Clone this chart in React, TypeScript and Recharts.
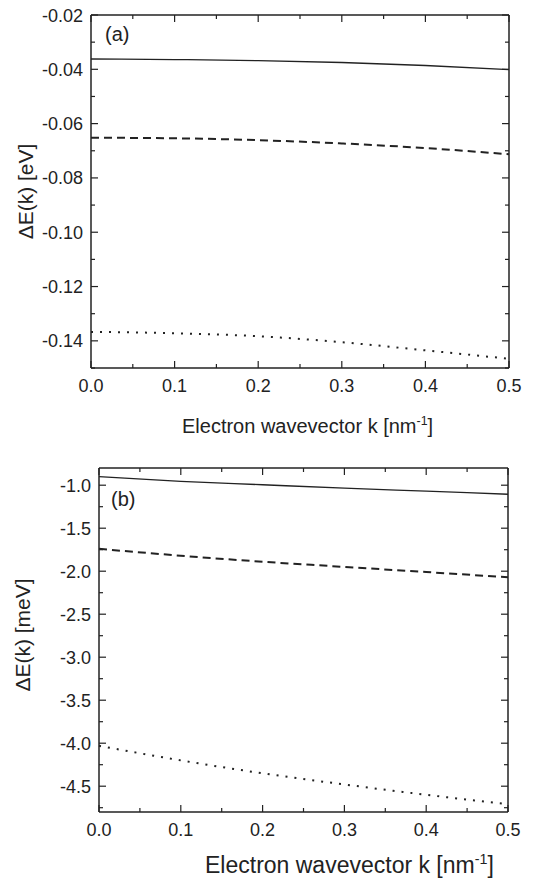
import { LineChart, Line, XAxis, YAxis, Label } from 'recharts';

// electron wavevector k [nm^-1]
const kValues = [0, 0.1, 0.2, 0.3, 0.4, 0.5];

// panel (a), eV
const solidA = [-0.0362, -0.0364, -0.0368, -0.0375, -0.0386, -0.0401];
const dashedA = [-0.0652, -0.0654, -0.0661, -0.0673, -0.069, -0.0713];
const dottedA = [-0.1367, -0.1372, -0.1383, -0.1405, -0.1435, -0.1466];

// panel (b), meV
const solidB = [-0.9, -0.955, -0.995, -1.035, -1.07, -1.105];
const dashedB = [-1.74, -1.82, -1.89, -1.95, -2.01, -2.07];
const dottedB = [-4.03, -4.2, -4.35, -4.48, -4.6, -4.71];

const xTicks = [0, 0.05, 0.1, 0.15, 0.2, 0.25, 0.3, 0.35, 0.4, 0.45, 0.5];
const yTicksA = [-0.15, -0.14, -0.13, -0.12, -0.11, -0.1, -0.09, -0.08, -0.07, -0.06, -0.05, -0.04, -0.03, -0.02];
const yTicksB = [-4.75, -4.5, -4.25, -4.0, -3.75, -3.5, -3.25, -3.0, -2.75, -2.5, -2.25, -2.0, -1.75, -1.5, -1.25, -1.0];

const dataA = kValues.map((k, i) => ({ k, solid: solidA[i], dashed: dashedA[i], dotted: dottedA[i] }));
const dataB = kValues.map((k, i) => ({ k, solid: solidB[i], dashed: dashedB[i], dotted: dottedB[i] }));

const INK = '#222';
const FONT = '"Liberation Sans", Arial, Helvetica, sans-serif';
const MAJOR = 7;
const MINOR = 4;

const isMajor = (v: number, step: number) => Math.abs(Math.round(v / step) * step - v) < step * 1e-3;

function makeTick(side: 'bottom' | 'top' | 'left' | 'right', step: number, digits: number, labelOffset: number) {
  return (props: any) => {
    const { x, y, payload } = props;
    const v = payload.value as number;
    const major = isMajor(v, step);
    const len = major ? MAJOR : MINOR;
    let line;
    if (side === 'bottom') line = <line x1={x} x2={x} y1={y} y2={y - len} />;
    else if (side === 'top') line = <line x1={x} x2={x} y1={y} y2={y + len} />;
    else if (side === 'left') line = <line x1={x} x2={x + len} y1={y} y2={y} />;
    else line = <line x1={x} x2={x - len} y1={y} y2={y} />;
    return (
      <g stroke={INK} strokeWidth={1.2}>
        {line}
        {major && side === 'bottom' ? (
          <text x={x} y={y + labelOffset} textAnchor="middle" fill={INK} stroke="none" fontSize={18} fontFamily={FONT}>
            {v.toFixed(digits)}
          </text>
        ) : null}
        {major && side === 'left' ? (
          <text x={x - labelOffset} y={y + 6.5} textAnchor="end" fill={INK} stroke="none" fontSize={18} fontFamily={FONT}>
            {v.toFixed(digits)}
          </text>
        ) : null}
      </g>
    );
  };
}

function xTitle(dx: number, dy: number, size: number) {
  return (props: any) => {
    const vb = props.viewBox;
    return (
      <text x={vb.x + dx} y={vb.y + dy} fill={INK} fontSize={size} fontFamily={FONT}>
        Electron wavevector k [nm
        <tspan dy={-size * 0.4} fontSize={size * 0.62}>-1</tspan>
        <tspan dy={size * 0.4}>]</tspan>
      </text>
    );
  };
}

function yTitle(text: string, x: number, dy: number) {
  return (props: any) => {
    const vb = props.viewBox;
    const cy = vb.y + vb.height / 2 + dy;
    return (
      <text x={x} y={cy} transform={`rotate(-90, ${x}, ${cy})`} textAnchor="middle" fill={INK} fontSize={21} fontFamily={FONT}>
        {text}
      </text>
    );
  };
}

function panelTag(text: string, dx: number, dy: number) {
  return (props: any) => {
    const vb = props.viewBox;
    return (
      <text x={vb.x + dx} y={vb.y + vb.height + dy} fill={INK} fontSize={20} fontFamily={FONT}>
        {text}
      </text>
    );
  };
}

const axisLine = { stroke: INK, strokeWidth: 1.5 };

function Series() {
  return [
    <Line key="s" type="monotone" dataKey="solid" xAxisId="b" yAxisId="l" stroke={INK} strokeWidth={1.3} dot={false} isAnimationActive={false} />,
    <Line key="d" type="monotone" dataKey="dashed" xAxisId="b" yAxisId="l" stroke={INK} strokeWidth={2} strokeDasharray="8 5" dot={false} isAnimationActive={false} />,
    <Line key="o" type="monotone" dataKey="dotted" xAxisId="b" yAxisId="l" stroke={INK} strokeWidth={2} strokeDasharray="2 7" dot={false} isAnimationActive={false} />,
  ];
}

export default function App() {
  return (
    <div style={{ position: 'absolute', left: 0, top: 0, width: 556, height: 885, background: '#fff' }}>
      <div style={{ position: 'absolute', left: 0, top: 0 }}>
        <LineChart width={556} height={440} data={dataA} margin={{ top: 14, right: 46, left: 0, bottom: 12 }}>
          <XAxis xAxisId="b" dataKey="k" type="number" domain={[0, 0.5]} ticks={xTicks} interval={0} height={60}
            tickSize={0} tickMargin={0} tickLine={false} axisLine={axisLine} tick={makeTick('bottom', 0.1, 1, 24)}>
            <Label content={xTitle(91, 65, 20)} />
          </XAxis>
          <XAxis xAxisId="t" dataKey="k" orientation="top" type="number" domain={[0, 0.5]} ticks={xTicks} interval={0} height={1}
            tickSize={0} tickMargin={0} tickLine={false} axisLine={axisLine} tick={makeTick('top', 0.1, 1, 0)}>
            <Label content={panelTag('(a)', 14, 26)} />
          </XAxis>
          <YAxis yAxisId="l" type="number" domain={[-0.15, -0.02]} ticks={yTicksA} interval={0} width={91} allowDataOverflow
            tickSize={0} tickMargin={0} tickLine={false} axisLine={axisLine} tick={makeTick('left', 0.02, 2, 8)}>
            <Label content={yTitle('ΔE(k) [eV]', 33, 0)} />
          </YAxis>
          <YAxis yAxisId="r" orientation="right" type="number" domain={[-0.15, -0.02]} ticks={yTicksA} interval={0} width={1} allowDataOverflow
            tickSize={0} tickMargin={0} tickLine={false} axisLine={axisLine} tick={makeTick('right', 0.02, 2, 0)} />
          {Series()}
        </LineChart>
      </div>
      <div style={{ position: 'absolute', left: 0, top: 440 }}>
        <LineChart width={556} height={445} data={dataB} margin={{ top: 27, right: 47, left: 0, bottom: 13 }}>
          <XAxis xAxisId="b" dataKey="k" type="number" domain={[0, 0.5]} ticks={xTicks} interval={0} height={60}
            tickSize={0} tickMargin={0} tickLine={false} axisLine={axisLine} tick={makeTick('bottom', 0.1, 1, 23.5)}>
            <Label content={xTitle(106, 61, 23)} />
          </XAxis>
          <XAxis xAxisId="t" dataKey="k" orientation="top" type="number" domain={[0, 0.5]} ticks={xTicks} interval={0} height={1}
            tickSize={0} tickMargin={0} tickLine={false} axisLine={axisLine} tick={makeTick('top', 0.1, 1, 0)}>
            <Label content={panelTag('(b)', 12, 38)} />
          </XAxis>
          <YAxis yAxisId="l" type="number" domain={[-4.8, -0.8]} ticks={yTicksB} interval={0} width={99} allowDataOverflow
            tickSize={0} tickMargin={0} tickLine={false} axisLine={axisLine} tick={makeTick('left', 0.5, 1, 8)}>
            <Label content={yTitle('ΔE(k) [meV]', 30, -5)} />
          </YAxis>
          <YAxis yAxisId="r" orientation="right" type="number" domain={[-4.8, -0.8]} ticks={yTicksB} interval={0} width={1} allowDataOverflow
            tickSize={0} tickMargin={0} tickLine={false} axisLine={axisLine} tick={makeTick('right', 0.5, 1, 0)} />
          {Series()}
        </LineChart>
      </div>
    </div>
  );
}
